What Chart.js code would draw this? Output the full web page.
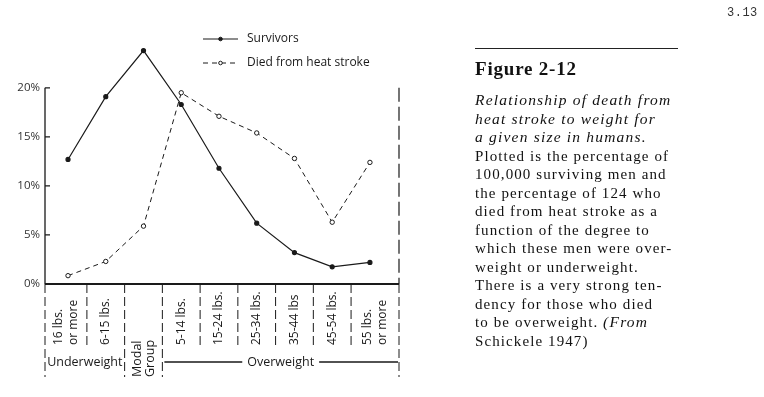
<!DOCTYPE html>
<html>
<head>
<meta charset="utf-8">
<script src="https://cdn.jsdelivr.net/npm/chart.js@4"></script>
<style>
  body { margin: 0; background: #fff; }
  #wrap { position: relative; width: 764px; height: 397px; overflow: hidden; }
  #chart { position: absolute; left: 0; top: 0; }
  .pageno { position: absolute; left: 727px; top: 6px; font: 12px "Liberation Mono", monospace; color: #333; letter-spacing: 0.5px; }
  .rule { position: absolute; left: 475px; top: 48px; width: 203px; border-top: 1.5px solid #222; }
  .fig { position: absolute; left: 475px; top: 58px; font: bold 19px "Liberation Serif", serif; color: #111; letter-spacing: 0.8px; }
  .cap { position: absolute; left: 475px; top: 91px; font: 15px/18.5px "Liberation Serif", serif; color: #111; white-space: nowrap; letter-spacing: 1.1px; }
  .cap i { font-size: 15.5px; letter-spacing: 1.2px; }
</style>
</head>
<body>
<div id="wrap">
  <canvas id="chart" width="764" height="397"></canvas>
  <div class="pageno">3.13</div>
  <div class="rule"></div>
  <div class="fig">Figure 2-12</div>
  <div class="cap">
    <i>Relationship of death from</i><br>
    <i>heat stroke to weight for</i><br>
    <i>a given size in humans.</i><br>
    Plotted is the percentage of<br>
    100,000 surviving men and<br>
    the percentage of 124 who<br>
    died from heat stroke as a<br>
    function of the degree to<br>
    which these men were over-<br>
    weight or underweight.<br>
    There is a very strong ten-<br>
    dency for those who died<br>
    to be overweight. <i>(From</i><br>
    Schickele 1947)
  </div>
</div>
<script>
// weight classes (rotated labels under the axis)
const categories = [
  ["16 lbs.", "or more"],
  ["6-15 lbs."],
  [],
  ["5-14 lbs."],
  ["15-24 lbs."],
  ["25-34 lbs."],
  ["35-44 lbs"],
  ["45-54 lbs."],
  ["55 lbs.", "or more"]
];
const groups = [
  { label: ["Underweight"], from: 0, to: 1 },
  { label: ["Modal", "Group"], from: 2, to: 2 },
  { label: ["Overweight"], from: 3, to: 8 }
];
const survivors = [12.7, 19.1, 23.8, 18.3, 11.8, 6.2, 3.2, 1.75, 2.2];
const diedHeatStroke = [0.85, 2.3, 5.9, 19.5, 17.1, 15.4, 12.8, 6.3, 12.4];
const yTicks = [0, 5, 10, 15, 20];
const seriesNames = ["Survivors", "Died from heat stroke"];

const INK = "#1a1a1a";
const SANS = '"Open Sans", sans-serif';

function toPoints(arr) {
  return arr.map((v, i) => ({ x: i, y: v }));
}

// axes, category table and legend drawn by hand, like the printed figure
const frame = {
  id: "frame",
  afterDraw(chart) {
    const ctx = chart.ctx;
    const xs = chart.scales.x;
    const ys = chart.scales.y;
    const area = chart.chartArea;
    const left = area.left, right = area.right;
    const y0 = ys.getPixelForValue(0);
    const yTop = ys.getPixelForValue(yTicks[yTicks.length - 1]);
    const n = categories.length;

    // cell borders in x
    const edges = [left];
    for (let i = 0; i < n - 1; i++) edges.push(xs.getPixelForValue(i + 0.5));
    edges.push(right);

    ctx.save();
    ctx.strokeStyle = INK;
    ctx.lineWidth = 1.3;

    // left axis + ticks
    ctx.beginPath();
    ctx.moveTo(left, yTop);
    ctx.lineTo(left, y0);
    yTicks.forEach((v) => {
      if (v === 0) return;
      const y = ys.getPixelForValue(v);
      ctx.moveTo(left, y);
      ctx.lineTo(left + 5, y);
    });
    ctx.stroke();

    // base line
    ctx.lineWidth = 2;
    ctx.beginPath();
    ctx.moveTo(left, y0);
    ctx.lineTo(right, y0);
    ctx.stroke();

    // right border, dashed
    ctx.lineWidth = 1.2;
    ctx.setLineDash([14, 5]);
    ctx.beginPath();
    ctx.moveTo(right, yTop);
    ctx.lineTo(right, y0);
    ctx.stroke();

    // dividers below the axis
    const groupEdges = new Set();
    groups.forEach((g) => { groupEdges.add(g.from); groupEdges.add(g.to + 1); });
    ctx.lineWidth = 1;
    ctx.setLineDash([9, 4]);
    edges.forEach((x, k) => {
      ctx.beginPath();
      ctx.moveTo(x, y0);
      ctx.lineTo(x, groupEdges.has(k) ? y0 + 93 : y0 + 61);
      ctx.stroke();
    });
    ctx.setLineDash([]);

    // rotated category labels
    ctx.fillStyle = INK;
    ctx.font = "12px " + SANS;
    ctx.textBaseline = "middle";
    ctx.textAlign = "left";
    categories.forEach((lines, i) => {
      const cx = (edges[i] + edges[i + 1]) / 2;
      lines.forEach((t, j) => {
        const dx = (j - (lines.length - 1) / 2) * 15;
        ctx.save();
        ctx.translate(cx + dx, y0 + 61);
        ctx.rotate(-Math.PI / 2);
        ctx.fillText(t, 0, 0);
        ctx.restore();
      });
    });

    // group labels
    const gy = y0 + 78;
    ctx.font = "12.5px " + SANS;
    groups.forEach((g) => {
      const a = edges[g.from], b = edges[g.to + 1];
      const cx = (a + b) / 2;
      if (g.label.length > 1) {
        g.label.forEach((t, j) => {
          const dx = (j - (g.label.length - 1) / 2) * 13;
          ctx.save();
          ctx.translate(cx + dx, y0 + 93);
          ctx.rotate(-Math.PI / 2);
          ctx.textAlign = "left";
          ctx.fillText(t, 0, 0);
          ctx.restore();
        });
        return;
      }
      ctx.textAlign = "center";
      ctx.fillText(g.label[0], cx, gy);
      const w = ctx.measureText(g.label[0]).width;
      if (b - a - w > 40) {
        ctx.lineWidth = 1.3;
        ctx.beginPath();
        ctx.moveTo(a + 2, gy);
        ctx.lineTo(cx - w / 2 - 5, gy);
        ctx.moveTo(cx + w / 2 + 5, gy);
        ctx.lineTo(b - 1, gy);
        ctx.stroke();
      }
    });

    // legend
    const lx = 203, lw = 35;
    const legendY = [39, 63];
    chart.data.datasets.forEach((ds, k) => {
      const y = legendY[k];
      ctx.lineWidth = ds.borderWidth;
      ctx.setLineDash(ds.borderDash || []);
      ctx.beginPath();
      ctx.moveTo(lx, y);
      ctx.lineTo(lx + lw, y);
      ctx.stroke();
      ctx.setLineDash([]);
      ctx.beginPath();
      ctx.arc(lx + lw / 2, y, 1.8, 0, Math.PI * 2);
      ctx.fillStyle = ds.pointBackgroundColor;
      ctx.fill();
      ctx.lineWidth = 1;
      ctx.stroke();
      ctx.fillStyle = INK;
      ctx.font = "12px " + SANS;
      ctx.textAlign = "left";
      ctx.fillText(ds.label, lx + lw + 9, y);
    });
    ctx.restore();
  }
};

new Chart(document.getElementById("chart"), {
  type: "line",
  data: {
    datasets: [
      {
        label: seriesNames[0],
        data: toPoints(survivors),
        borderColor: INK,
        borderWidth: 1.2,
        pointRadius: 2,
        pointBackgroundColor: INK,
        pointBorderColor: INK,
        tension: 0
      },
      {
        label: seriesNames[1],
        data: toPoints(diedHeatStroke),
        borderColor: INK,
        borderWidth: 1,
        borderDash: [5, 4],
        pointRadius: 2.2,
        pointBorderWidth: 1,
        pointBackgroundColor: "#fff",
        pointBorderColor: INK,
        tension: 0
      }
    ]
  },
  options: {
    responsive: false,
    animation: false,
    layout: { padding: { left: 0, right: 365, top: 29, bottom: 113 } },
    plugins: { legend: { display: false }, tooltip: { enabled: false } },
    scales: {
      x: { type: "linear", min: -0.61, max: 8.77, display: false },
      y: {
        min: 0,
        max: 26,
        afterFit: (s) => { s.width = 45; },
        afterBuildTicks: (s) => { s.ticks = yTicks.map((v) => ({ value: v })); },
        grid: { display: false, drawTicks: false },
        border: { display: false },
        ticks: {
          padding: 5,
          color: "#333",
          font: { family: "Open Sans", size: 11.5 },
          callback: (v) => v + "%"
        }
      }
    }
  },
  plugins: [frame]
});
</script>
</body>
</html>
